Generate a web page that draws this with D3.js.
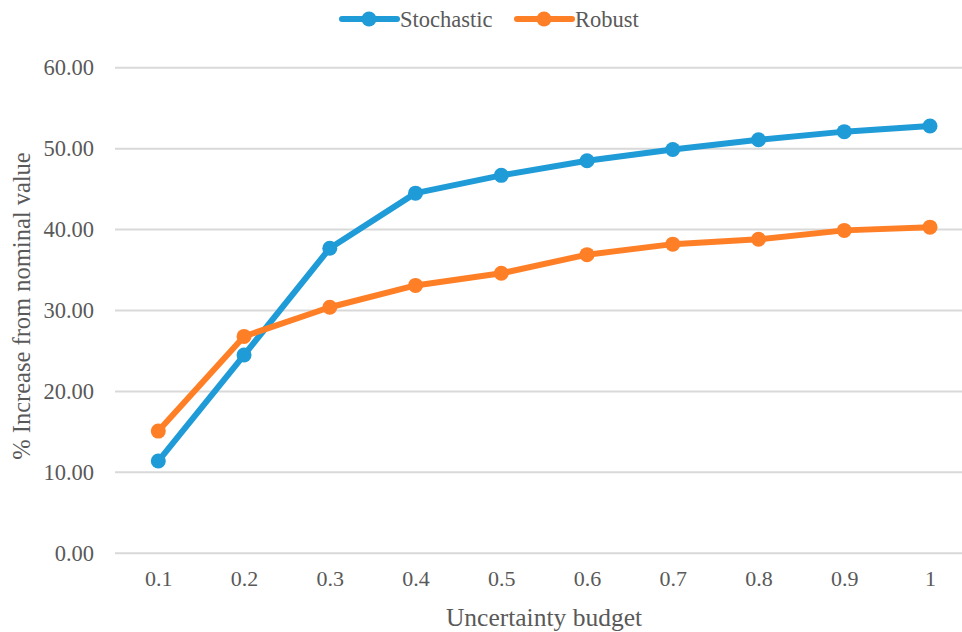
<!DOCTYPE html>
<html>
<head>
<meta charset="utf-8">
<script src="https://cdn.jsdelivr.net/npm/d3@7"></script>
<style>
  html, body { margin: 0; padding: 0; background: #fff; }
  svg { display: block; }
  svg text { font-family: "Liberation Serif", serif; }
</style>
</head>
<body>
<svg id="chart" width="962" height="632"></svg>
<script>
const categories = ["0.1", "0.2", "0.3", "0.4", "0.5", "0.6", "0.7", "0.8", "0.9", "1"];
const stochastic = [11.4, 24.5, 37.7, 44.5, 46.7, 48.5, 49.9, 51.1, 52.1, 52.8];
const robust = [15.1, 26.8, 30.4, 33.1, 34.6, 36.9, 38.2, 38.8, 39.9, 40.3];
const yTicks = [0, 10, 20, 30, 40, 50, 60];
const seriesNames = ["Stochastic", "Robust"];
const seriesColors = ["#1F9BD7", "#FF7F27"];

const svg = d3.select("#chart");
const W = 962, H = 632;
const textColor = "#595959";

const x = d3.scalePoint().domain(categories).range([158.3, 930]);
const y = d3.scaleLinear().domain([0, 60]).range([553.3, 67.7]);

// gridlines
svg.append("g").selectAll("line").data(yTicks).join("line")
  .attr("x1", 115).attr("x2", W)
  .attr("y1", d => y(d)).attr("y2", d => y(d))
  .attr("stroke", "#d9d9d9").attr("stroke-width", 2);

// y tick labels
const yAxis = d3.axisLeft(y).tickValues(yTicks).tickFormat(d3.format(".2f")).tickSize(0).tickPadding(0);
const gy = svg.append("g").attr("transform", "translate(94,0)").call(yAxis);
gy.select(".domain").remove();
gy.attr("font-family", null);
gy.selectAll("text").attr("font-size", 22.5).attr("fill", textColor);

// x tick labels
const xAxis = d3.axisBottom(x).tickSize(0).tickPadding(0);
const gx = svg.append("g").attr("transform", "translate(0,570)").call(xAxis);
gx.select(".domain").remove();
gx.attr("font-family", null);
gx.selectAll("text").attr("font-size", 22).attr("fill", textColor);

// axis titles
svg.append("text")
  .attr("x", (446 + 642) / 2).attr("y", 626)
  .attr("text-anchor", "middle")
  .attr("font-size", 25.5).attr("fill", textColor)
  .text("Uncertainty budget");

svg.append("text")
  .attr("transform", "translate(30,306) rotate(-90)")
  .attr("text-anchor", "middle")
  .attr("font-size", 24.5).attr("fill", textColor)
  .text("% Increase from nominal value");

// series
const allSeries = [stochastic, robust];
const line = d3.line().x((d, i) => x(categories[i])).y(d => y(d));
allSeries.forEach((vals, si) => {
  const g = svg.append("g");
  g.append("path").datum(vals)
    .attr("d", line)
    .attr("fill", "none")
    .attr("stroke", seriesColors[si])
    .attr("stroke-width", 6)
    .attr("stroke-linejoin", "round")
    .attr("stroke-linecap", "round");
  g.selectAll("circle").data(vals).join("circle")
    .attr("cx", (d, i) => x(categories[i]))
    .attr("cy", d => y(d))
    .attr("r", 7.5)
    .attr("fill", seriesColors[si]);
});

// legend
const legendItems = [
  { name: seriesNames[0], color: seriesColors[0], x0: 342 },
  { name: seriesNames[1], color: seriesColors[1], x0: 517 }
];
const lg = svg.append("g");
legendItems.forEach(it => {
  lg.append("line")
    .attr("x1", it.x0).attr("x2", it.x0 + 55)
    .attr("y1", 19).attr("y2", 19)
    .attr("stroke", it.color).attr("stroke-width", 6).attr("stroke-linecap", "round");
  lg.append("circle")
    .attr("cx", it.x0 + 27).attr("cy", 19).attr("r", 7.5).attr("fill", it.color);
  lg.append("text")
    .attr("x", it.x0 + 58).attr("y", 19)
    .attr("dy", "0.35em")
    .attr("font-size", 22.5).attr("fill", textColor)
    .text(it.name);
});
</script>
</body>
</html>
